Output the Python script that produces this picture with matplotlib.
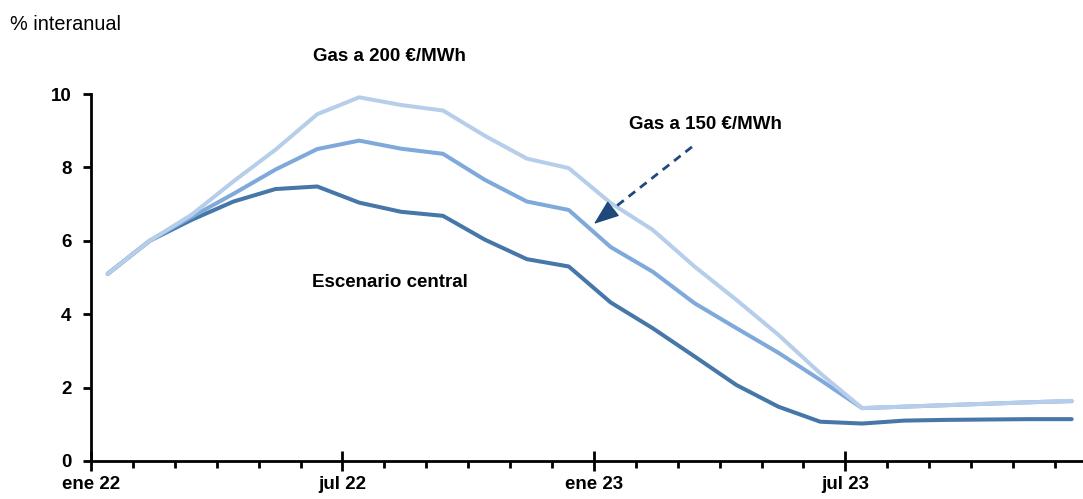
import matplotlib
matplotlib.use("Agg")
import matplotlib.pyplot as plt
from matplotlib.ticker import FixedLocator, MultipleLocator

# Monthly series, January 2022 to December 2023 (% year-on-year)
months = list(range(24))
central = [5.1, 6.0, 6.57, 7.07, 7.41, 7.48, 7.04, 6.79, 6.68, 6.03, 5.50, 5.30,
           4.32, 3.62, 2.85, 2.07, 1.48, 1.07, 1.02, 1.10, 1.12, 1.13, 1.14, 1.14]
gas_150 = [5.1, 6.0, 6.65, 7.28, 7.94, 8.50, 8.73, 8.51, 8.37, 7.66, 7.07, 6.84,
           5.83, 5.16, 4.30, 3.62, 2.95, 2.21, 1.44, 1.48, 1.52, 1.56, 1.60, 1.63]
gas_200 = [5.1, 6.0, 6.71, 7.62, 8.48, 9.45, 9.91, 9.70, 9.55, 8.86, 8.24, 7.98,
           7.03, 6.30, 5.30, 4.39, 3.44, 2.39, 1.44, 1.48, 1.52, 1.56, 1.60, 1.64]

tick_positions = [0, 6, 12, 18]
tick_labels = ["ene 22", "jul 22", "ene 23", "jul 23"]
y_ticks = [0, 2, 4, 6, 8, 10]

c_central = "#4677A8"
c_150 = "#7EA9DA"
c_200 = "#B7CEEA"
c_arrow = "#1F497D"

plt.rcParams["font.family"] = ["Liberation Sans", "DejaVu Sans"]
fs = 13.5

fig = plt.figure(figsize=(10.83, 4.99), dpi=100)
ax = fig.add_axes([0.084, 0.0762, 0.916, 0.7354])

# points sit inside each month slot
offset = 0.4
xs = [m + offset for m in months]

ax.plot(xs, central, color=c_central, lw=2.9, solid_capstyle="round", zorder=3)
ax.plot(xs, gas_150, color=c_150, lw=2.9, solid_capstyle="round", zorder=4)
ax.plot(xs, gas_200, color=c_200, lw=2.9, solid_capstyle="round", zorder=5)

ax.set_xlim(0, 23.67)
ax.set_ylim(0, 10)

for side in ("top", "right"):
    ax.spines[side].set_visible(False)
for side in ("left", "bottom"):
    ax.spines[side].set_linewidth(2)
    ax.spines[side].set_color("black")

ax.set_yticks(y_ticks)
ax.set_yticklabels([str(v) for v in y_ticks], fontsize=fs, fontweight="bold")
ax.tick_params(axis="y", direction="out", length=6, width=2, pad=8)

ax.xaxis.set_major_locator(FixedLocator(tick_positions))
ax.xaxis.set_minor_locator(MultipleLocator(1))
ax.set_xticklabels(tick_labels, fontsize=fs, fontweight="bold")
ax.tick_params(axis="x", which="major", direction="inout", length=14, width=2, pad=4)
ax.tick_params(axis="x", which="minor", direction="out", length=5, width=2)

fig.text(0.009, 0.95, "% interanual", fontsize=14.3, ha="left", va="center")

ax.text(7.11, 11.02, "Gas a 200 €/MWh", fontsize=fs, fontweight="bold",
        ha="center", va="center", clip_on=False)
ax.text(14.65, 9.16, "Gas a 150 €/MWh", fontsize=fs, fontweight="bold",
        ha="center", va="center")
ax.text(7.14, 4.85, "Escenario central", fontsize=fs, fontweight="bold",
        ha="center", va="center")

# dashed pointer with a solid triangular head
arrow_start = (14.34, 8.56)
head_base = (12.41, 6.83)
arrow_tip = (12.0, 6.46)
ax.plot([arrow_start[0], head_base[0]], [arrow_start[1], head_base[1]],
        color=c_arrow, lw=2, linestyle=(0, (3, 2.2)), zorder=6)
ax.annotate("", xy=arrow_tip, xytext=head_base,
            arrowprops=dict(arrowstyle="-|>,head_length=0.8,head_width=0.3",
                            mutation_scale=20, color=c_arrow, lw=1,
                            shrinkA=0, shrinkB=0),
            zorder=6)

fig.savefig("out.png", dpi=100)
